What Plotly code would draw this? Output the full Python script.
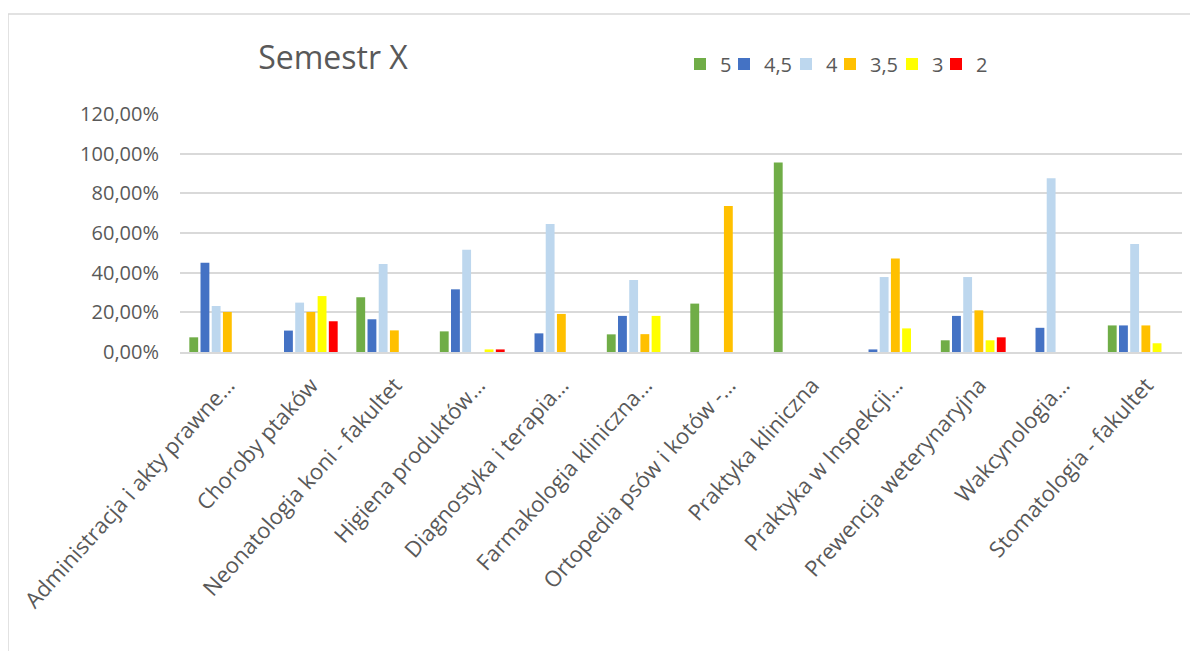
import plotly.graph_objects as go

categories = [
    "Administracja i akty prawne…",
    "Choroby ptaków",
    "Neonatologia koni - fakultet",
    "Higiena produktów…",
    "Diagnostyka i terapia…",
    "Farmakologia kliniczna…",
    "Ortopedia psów i kotów -…",
    "Praktyka kliniczna",
    "Praktyka w Inspekcji…",
    "Prewencja weterynaryjna",
    "Wakcynologia…",
    "Stomatologia - fakultet",
]

series_names = ["5", "4,5", "4", "3,5", "3", "2"]
series_colors = ["#70AD47", "#4472C4", "#BDD7EE", "#FFC000", "#FFFF00", "#FF0000"]

grade_5 = [0.074, 0.0, 0.276, 0.104, 0.0, 0.089, 0.244, 0.955, 0.0, 0.059, 0.0, 0.134]
grade_45 = [0.450, 0.108, 0.165, 0.316, 0.094, 0.182, 0.0, 0.0, 0.013, 0.182, 0.122, 0.134]
grade_4 = [0.232, 0.249, 0.444, 0.516, 0.645, 0.363, 0.0, 0.0, 0.378, 0.378, 0.876, 0.545]
grade_35 = [0.202, 0.202, 0.109, 0.0, 0.192, 0.090, 0.736, 0.0, 0.471, 0.210, 0.0, 0.134]
grade_3 = [0.0, 0.282, 0.0, 0.013, 0.0, 0.182, 0.0, 0.0, 0.119, 0.059, 0.0, 0.044]
grade_2 = [0.0, 0.155, 0.0, 0.013, 0.0, 0.0, 0.0, 0.0, 0.0, 0.074, 0.0, 0.0]

series_values = [grade_5, grade_45, grade_4, grade_35, grade_3, grade_2]

title_text = "Semestr X"

# The page body has an 8px margin, so the figure is placed at (8, 8).
OFF = 8
W, H = 1198 - OFF, 651 - OFF
PL, PR, PT, PB = 180 - OFF, 16, 114 - OFF, 299
pw = W - PL - PR
ph = H - PT - PB

def px_to_paper_x(px):
    # px given in screenshot coordinates
    return (px - OFF - PL) / pw

def px_to_paper_y(py):
    return (H - PB - (py - OFF)) / ph

FONT = "Open Sans"
GREY = "#595959"

fig = go.Figure()
legend_ids = ["legend", "legend2", "legend3", "legend4", "legend5", "legend6"]
for name, color, vals, lid in zip(series_names, series_colors, series_values, legend_ids):
    fig.add_trace(go.Bar(
        x=categories, y=vals, name=name,
        marker=dict(color=color, line=dict(width=0)),
        legend=lid,
    ))

# legend item positions (left edge of the colour square in the reference)
legend_square_px = [698, 742, 804, 848, 910, 954]
legend_layouts = {}
for lid, sx in zip(legend_ids, legend_square_px):
    legend_layouts[lid] = dict(
        x=px_to_paper_x(sx - 18), xanchor="left",
        y=px_to_paper_y(64), yanchor="middle",
        orientation="h",
        font=dict(family=FONT, size=20, color=GREY),
        bgcolor="rgba(0,0,0,0)",
        borderwidth=0,
    )

fig.update_layout(
    width=W, height=H,
    margin=dict(l=PL, r=PR, t=PT, b=PB, autoexpand=False),
    paper_bgcolor="white",
    plot_bgcolor="white",
    separators=", ",
    barmode="group",
    bargap=0.195,
    bargroupgap=0.21,
    font=dict(family=FONT, color=GREY),
    title=dict(
        text=title_text,
        x=px_to_paper_x(333), xref="paper", xanchor="center",
        y=1 - (58 - OFF) / H, yref="container", yanchor="middle",
        font=dict(family=FONT, size=32, color=GREY),
    ),
    showlegend=True,
    xaxis=dict(
        type="category",
        tickangle=-48,
        tickfont=dict(family=FONT, size=22, color=GREY),
        showgrid=False,
        showline=True, linecolor="#D9D9D9", linewidth=1.5,
        ticks="",
        ticklabelstandoff=10,
        ticklabelshift=6,
        automargin=False,
    ),
    yaxis=dict(
        range=[0, 1.2],
        dtick=0.2,
        tick0=0,
        tickformat=".2%",
        tickfont=dict(family=FONT, size=20, color=GREY),
        showgrid=True, gridcolor="#D9D9D9", gridwidth=1.5,
        zeroline=False,
        showline=False,
        ticks="",
        ticklabelstandoff=20,
        automargin=False,
    ),
    **legend_layouts,
)

# outer chart-area border (light grey), cropped at right and bottom
bx = px_to_paper_x(8)
by = px_to_paper_y(14)
fig.add_shape(type="line", xref="paper", yref="paper",
              x0=bx, y0=by, x1=px_to_paper_x(1198 + 20), y1=by,
              line=dict(color="#D9D9D9", width=1.5))
fig.add_shape(type="line", xref="paper", yref="paper",
              x0=bx, y0=by, x1=bx, y1=px_to_paper_y(651 + 20),
              line=dict(color="#D9D9D9", width=1.5))

fig.write_html("out.html")
